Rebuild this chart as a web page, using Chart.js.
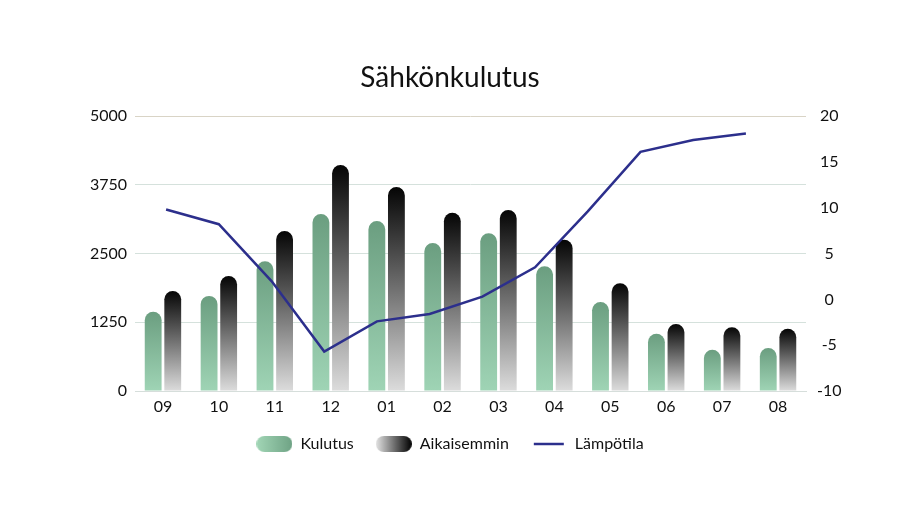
<!DOCTYPE html>
<html>
<head>
<meta charset="utf-8">
<script src="https://cdn.jsdelivr.net/npm/chart.js@4"></script>
<style>
  html, body { margin: 0; padding: 0; background: #fff; }
</style>
</head>
<body>
<canvas id="chart" width="900" height="506"></canvas>
<script>
// ---------- DATA ----------
const months = ["09", "10", "11", "12", "01", "02", "03", "04", "05", "06", "07", "08"];
const kulutus = [1440, 1730, 2360, 3220, 3090, 2690, 2870, 2270, 1620, 1040, 750, 780];
const aikaisemmin = [1820, 2090, 2910, 4110, 3710, 3240, 3290, 2750, 1960, 1220, 1160, 1130];
const lampotila = [9.8, 8.2, 2.0, -5.7, -2.4, -1.6, 0.3, 3.5, 9.6, 16.1, 17.4, 18.1];
const leftTicks = [0, 1250, 2500, 3750, 5000];

const FONT = "Lato, 'Open Sans', sans-serif";
const GREEN_TOP = "#6b9e80", GREEN_BOTTOM = "#9fd4b5";
const DARK_TOP = "#050505", DARK_BOTTOM = "#dcdcdc";
const LINE_COLOR = "#2c2f8c";

// the temperature line sits on its own hidden x axis; newer Chart.js counts
// every x axis when grouping bars, which would halve the bar width
if (Chart.BarController && Chart.BarController.prototype._getAxisCount) {
  Chart.BarController.prototype._getAxisCount = () => 1;
}

// gradient from the top of each bar down to its base
function barGradient(c, top, bottom) {
  const chart = c.chart;
  if (!chart.chartArea || c.raw === undefined) return top;
  const y = chart.scales.y;
  const g = chart.ctx.createLinearGradient(0, y.getPixelForValue(c.raw), 0, y.getPixelForValue(0));
  g.addColorStop(0, top);
  g.addColorStop(1, bottom);
  return g;
}

// ---------- LEGEND ICONS ----------
function pillIcon(from, to) {
  const cv = document.createElement("canvas");
  cv.width = 36; cv.height = 16;
  const x = cv.getContext("2d");
  const g = x.createLinearGradient(0, 0, 36, 0);
  g.addColorStop(0, from);
  g.addColorStop(1, to);
  x.fillStyle = g;
  x.beginPath();
  x.roundRect(0, 0, 36, 16, 8);
  x.fill();
  return cv;
}
function lineIcon() {
  const cv = document.createElement("canvas");
  cv.width = 36; cv.height = 16;
  const x = cv.getContext("2d");
  x.strokeStyle = LINE_COLOR;
  x.lineWidth = 2.5;
  x.beginPath();
  x.moveTo(3, 8); x.lineTo(33, 8);
  x.stroke();
  return cv;
}
const legendIcons = [pillIcon("#a2d6b6", "#6fa385"), pillIcon("#e4e4e4", "#000000"), lineIcon()];

new Chart(document.getElementById("chart"), {
  data: {
    labels: months,
    datasets: [
      {
        type: "bar",
        label: "Kulutus",
        data: kulutus,
        yAxisID: "y",
        order: 1,
        backgroundColor: c => barGradient(c, GREEN_TOP, GREEN_BOTTOM),
        borderRadius: { topLeft: 9, topRight: 9 },
        borderSkipped: "start",
        categoryPercentage: 0.7,
        barPercentage: 0.86
      },
      {
        type: "bar",
        label: "Aikaisemmin",
        data: aikaisemmin,
        yAxisID: "y",
        order: 1,
        backgroundColor: c => barGradient(c, DARK_TOP, DARK_BOTTOM),
        borderRadius: { topLeft: 9, topRight: 9 },
        borderSkipped: "start",
        categoryPercentage: 0.7,
        barPercentage: 0.86
      },
      {
        type: "line",
        label: "Lämpötila",
        data: lampotila.map((t, i) => ({ x: i, y: t })),
        xAxisID: "xLine",
        yAxisID: "y2",
        order: 0,
        borderColor: LINE_COLOR,
        backgroundColor: LINE_COLOR,
        borderWidth: 2.5,
        pointRadius: 0,
        tension: 0
      }
    ]
  },
  options: {
    responsive: false,
    animation: false,
    layout: { padding: { left: 0, right: 0, top: 0, bottom: 44 } },
    plugins: {
      tooltip: { enabled: false },
      title: {
        display: true,
        text: "Sähkönkulutus",
        color: "#111",
        font: { family: FONT, size: 28, weight: "normal", lineHeight: 1.2 },
        padding: { top: 61, bottom: 21.5 }
      },
      legend: {
        position: "bottom",
        labels: {
          usePointStyle: true,
          pointStyleWidth: 36,
          boxHeight: 16,
          padding: 22,
          color: "#111",
          font: { family: FONT, size: 16 },
          sort: (a, b) => a.datasetIndex - b.datasetIndex,
          generateLabels(chart) {
            const items = Chart.defaults.plugins.legend.labels.generateLabels(chart);
            items.forEach(it => { it.pointStyle = legendIcons[it.datasetIndex]; });
            return items;
          }
        }
      }
    },
    scales: {
      x: {
        type: "category",
        offset: true,
        afterFit: s => { s.height = 23; },
        grid: { display: false, drawTicks: false },
        border: { display: true, color: "#d6dedb" },
        ticks: { color: "#111", padding: 6, font: { family: FONT, size: 16 } }
      },
      xLine: {
        type: "linear",
        display: false,
        offset: false,
        min: -0.59,
        max: 12.14
      },
      y: {
        position: "left",
        min: 0,
        max: 5000,
        afterFit: s => { s.width = 135; },
        afterBuildTicks: s => { s.ticks = leftTicks.map(v => ({ value: v })); },
        grid: {
          color: c => c.tick && c.tick.value === 5000 ? "#d9d4c6" : "#d5e1dc",
          drawTicks: false
        },
        border: { display: false },
        ticks: { color: "#111", padding: 8, callback: v => String(v), font: { family: FONT, size: 16 } }
      },
      y2: {
        position: "right",
        min: -10,
        max: 20,
        afterFit: s => { s.width = 94; },
        grid: { drawOnChartArea: false, drawTicks: false },
        border: { display: false },
        ticks: { stepSize: 5, color: "#111", padding: 11, crossAlign: "center", font: { family: FONT, size: 16 } }
      }
    }
  }
});
</script>
</body>
</html>
